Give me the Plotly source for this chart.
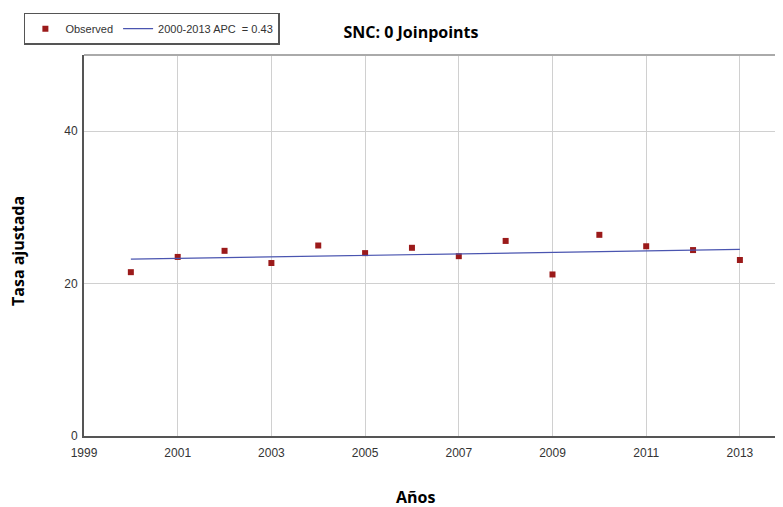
import plotly.graph_objects as go

years = list(range(2000, 2014))
observed = [21.5, 23.5, 24.3, 22.7, 25.0, 24.0, 24.7, 23.6, 25.6, 21.2, 26.4, 24.9, 24.4, 23.1]
fit_years = [2000, 2013]
fit_values = [23.2, 24.5]
x_ticks = [1999, 2001, 2003, 2005, 2007, 2009, 2011, 2013]
y_ticks = [0, 20, 40]

narrow = "Liberation Sans Narrow, Arial Narrow, Liberation Sans, sans-serif"
bold = "Open Sans, sans-serif"

fig = go.Figure()
fig.add_trace(go.Scatter(
    x=years, y=observed, mode="markers", name="Observed",
    marker=dict(symbol="square", size=6, color="#9b1a1a"),
))
fig.add_trace(go.Scatter(
    x=fit_years, y=fit_values, mode="lines", name="2000-2013 APC  = 0.43",
    line=dict(color="#4a55b0", width=1.2),
))

# page body has an 8px margin; figure is sized so plot area lands at x 84-783, y 55-436
fig.update_layout(
    width=775, height=499,
    margin=dict(l=76, r=0, t=47, b=71, autoexpand=False),
    paper_bgcolor="white", plot_bgcolor="white",
    title=dict(text="<b>SNC: 0 Joinpoints</b>", x=403 / 775, xanchor="center", y=1 - 24 / 499, yanchor="middle",
               font=dict(family=bold, size=16, color="black")),
    showlegend=True,
    legend=dict(orientation="h", x=-0.086, xanchor="left", y=1.111, yanchor="top",
                bordercolor="#555", borderwidth=1.5, bgcolor="white",
                font=dict(family=narrow, size=11, color="#333"),
                tracegroupgap=0),
    xaxis=dict(range=[1999, 2013.92], tickvals=x_ticks, showgrid=True, gridcolor="#d0d0d0", gridwidth=1,
               showline=True, linecolor="#555", linewidth=2, zeroline=False, mirror=False,
               ticks="", ticklabelstandoff=5, tickfont=dict(family=narrow, size=12, color="#333")),
    yaxis=dict(range=[0, 50], tickvals=y_ticks, showgrid=True, gridcolor="#d0d0d0", gridwidth=1,
               showline=True, linecolor="#555", linewidth=2, zeroline=False,
               ticks="", ticklabelstandoff=2, tickfont=dict(family=narrow, size=12, color="#333")),
    annotations=[
        dict(text="<b>Años</b>", xref="paper", yref="paper", x=(415 - 84) / 699, y=(436 - 497) / 381,
             xanchor="center", yanchor="middle", showarrow=False,
             font=dict(family=bold, size=16, color="black")),
        dict(text="<b>Tasa ajustada</b>", xref="paper", yref="paper", x=(18 - 84) / 699, y=(436 - 251) / 381,
             xanchor="center", yanchor="middle", showarrow=False, textangle=-90,
             font=dict(family=bold, size=16, color="black")),
    ],
)
fig.add_shape(type="line", xref="paper", yref="paper", x0=0, x1=1, y0=1, y1=1,
              line=dict(color="#aaa", width=2))
fig.add_shape(type="line", xref="paper", yref="paper", x0=1, x1=1, y0=0, y1=1,
              line=dict(color="#aaa", width=1))

fig.write_html("out.html")
